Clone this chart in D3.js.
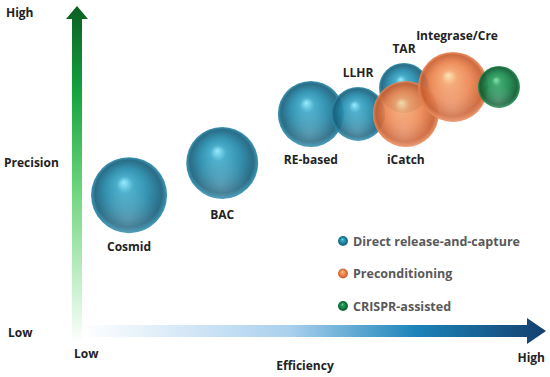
<!DOCTYPE html>
<html><head><meta charset="utf-8">
<script src="https://cdn.jsdelivr.net/npm/d3@7"></script>
<style>
html,body{margin:0;padding:0;background:#fff;}
svg{display:block;font-family:"Open Sans","Lato",sans-serif;}
</style></head>
<body>
<svg id="chart" width="550" height="377"></svg>
<script>
// ---- data ----
const methods    = ["Cosmid","BAC","RE-based","LLHR","TAR","iCatch","Integrase/Cre","CRISPR"];
const efficiency = [10.9, 31.6, 51.3, 61.8, 72.0, 72.4, 82.9, 93.1];
const precision  = [43.5, 53.9, 69.7, 69.7, 78.1, 69.7, 78.4, 78.4];
const sizes      = [38, 36, 33, 27, 25, 33, 35, 21];
const groups     = ["direct","direct","direct","direct","direct","pre","pre","crispr"];
const showLabel  = [true,true,true,true,true,true,true,false];
const groupNames = ["Direct release-and-capture","Preconditioning","CRISPR-assisted"];
const groupKeys  = ["direct","pre","crispr"];
const axisLabels = {x:"Efficiency", y:"Precision", low:"Low", high:"High"};

// ---- layout ----
const svg = d3.select("#chart");
const x = d3.scaleLinear().domain([0,100]).range([80,530]);
const y = d3.scaleLinear().domain([0,100]).range([330,20]);
const r = d3.scaleLinear().domain([0,40]).range([0,40]);

const palette = {
  direct:{hi:"#8eeaff", s1:"#3aa6c6", mid:"#2389aa", dark:"#18607c", rim:"#2c8eae"},
  pre:   {hi:"#fde2ae", s1:"#f4a06a", mid:"#ec844f", dark:"#c95e30", rim:"#ec8a58"},
  crispr:{hi:"#80e0a8", s1:"#2a9e5e", mid:"#17854a", dark:"#0c5a30", rim:"#1d8c4e"}
};

const defs = svg.append("defs");
groupKeys.forEach(k=>{
  const p = palette[k];
  const g = defs.append("radialGradient").attr("id","sph-"+k)
    .attr("cx","50%").attr("cy","50%").attr("r","50%").attr("fx","43%").attr("fy","33%");
  g.append("stop").attr("offset","0%").attr("stop-color",p.hi);
  g.append("stop").attr("offset","22%").attr("stop-color",p.s1);
  g.append("stop").attr("offset","55%").attr("stop-color",p.mid);
  g.append("stop").attr("offset","88%").attr("stop-color",p.dark);
  g.append("stop").attr("offset","100%").attr("stop-color",p.rim);
  const b = defs.append("radialGradient").attr("id","ref-"+k)
    .attr("cx","48%").attr("cy","80%").attr("r","40%");
  b.append("stop").attr("offset","0%").attr("stop-color","#ffffff").attr("stop-opacity",0.2);
  b.append("stop").attr("offset","100%").attr("stop-color","#ffffff").attr("stop-opacity",0);
});

// arrow gradients
const gv = defs.append("linearGradient").attr("id","gv").attr("x1",0).attr("y1",1).attr("x2",0).attr("y2",0);
gv.append("stop").attr("offset","0%").attr("stop-color","#ffffff");
gv.append("stop").attr("offset","45%").attr("stop-color","#6fd67e");
gv.append("stop").attr("offset","75%").attr("stop-color","#14a23e");
gv.append("stop").attr("offset","100%").attr("stop-color","#0b5e22");
const gh = defs.append("linearGradient").attr("id","gh").attr("x1",0).attr("y1",0).attr("x2",1).attr("y2",0);
gh.append("stop").attr("offset","0%").attr("stop-color","#ffffff");
gh.append("stop").attr("offset","45%").attr("stop-color","#a9d0ee");
gh.append("stop").attr("offset","72%").attr("stop-color","#1c84b9");
gh.append("stop").attr("offset","100%").attr("stop-color","#143f6e");

// vertical arrow
svg.append("path").attr("fill","url(#gv)")
  .attr("d","M72,343 L72,19 L66,19 L77,6 L88,19 L82,19 L82,343 Z");
// horizontal arrow
svg.append("path").attr("fill","url(#gh)")
  .attr("d","M82,325 L527,325 L527,318 L546,331 L527,344 L527,337 L82,337 Z");

// axis labels
const lab = (t,xx,yy,anchor,size)=>svg.append("text").text(t).attr("x",xx).attr("y",yy)
  .attr("text-anchor",anchor||"start").attr("font-size",size||12).attr("font-weight",700).attr("fill","#222");
lab(axisLabels.high,6,17);
lab(axisLabels.y,4,167);
lab(axisLabels.low,8,337);
lab(axisLabels.low,74,358);
lab(axisLabels.x,305,370,"middle");
lab(axisLabels.high,545,362,"end");

// bubbles
const data = methods.map((m,i)=>({m, x:efficiency[i], y:precision[i], s:sizes[i], g:groups[i], show:showLabel[i]}));
const order = [2,3,4,0,1,5,6,7];
const bub = svg.append("g").selectAll("g").data(order.map(i=>data[i])).join("g");
bub.append("circle").attr("cx",d=>x(d.x)).attr("cy",d=>y(d.y)).attr("r",d=>r(d.s))
  .attr("fill",d=>"url(#sph-"+d.g+")").attr("opacity",0.92);
bub.append("circle").attr("cx",d=>x(d.x)).attr("cy",d=>y(d.y)).attr("r",d=>r(d.s))
  .attr("fill",d=>"url(#ref-"+d.g+")");

// bubble labels
const labelPos = {
  "Cosmid":[0,1,18], "BAC":[0,1,20], "RE-based":[0,1,17], "iCatch":[0,1,17],
  "LLHR":[0,-1,10], "TAR":[0,-1,10], "Integrase/Cre":[4,-1,12]
};
svg.append("g").selectAll("text").data(data.filter(d=>d.show)).join("text")
  .text(d=>d.m)
  .attr("x",d=>x(d.x)+labelPos[d.m][0])
  .attr("y",d=>{const p=labelPos[d.m]; return y(d.y)+p[1]*(r(d.s)+p[2]);})
  .attr("text-anchor","middle").attr("font-size",12).attr("font-weight",700).attr("fill","#222");

// legend
const leg = svg.append("g").selectAll("g").data(groupKeys).join("g")
  .attr("transform",(d,i)=>`translate(343,${241+i*32.5})`);
leg.append("circle").attr("r",5).attr("fill",d=>"url(#sph-"+d+")");
leg.append("text").text((d,i)=>groupNames[i]).attr("x",10).attr("y",4.5)
  .attr("font-size",12.5).attr("font-weight",700).attr("fill","#595959");
</script>
</body></html>
